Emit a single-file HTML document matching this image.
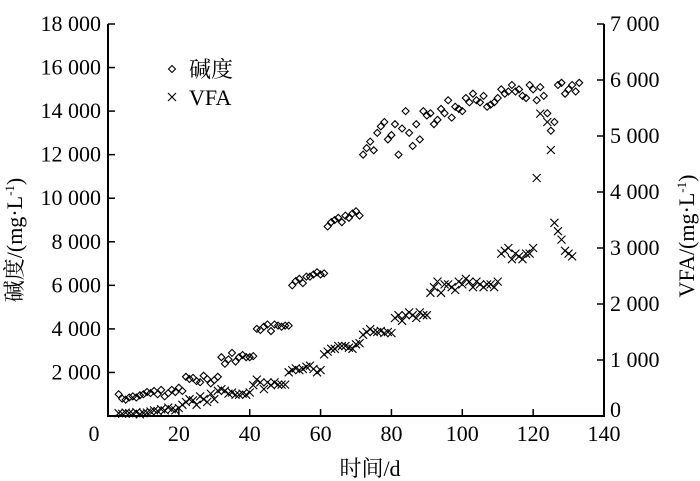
<!DOCTYPE html>
<html><head><meta charset="utf-8"><style>
body{margin:0;background:#fff;}
svg{display:block;font-family:"Liberation Serif","Noto Serif CJK SC",serif;}
</style></head><body>
<svg id="s" width="700" height="481" viewBox="0 0 700 481" xmlns="http://www.w3.org/2000/svg">
<g stroke="#000" stroke-width="2" fill="none">
<line x1="108" y1="24" x2="108" y2="417"/>
<line x1="604" y1="24" x2="604" y2="417"/>
<line x1="107" y1="416" x2="605" y2="416"/>
</g>
<g id="ticks" stroke="#000" stroke-width="1.5"></g>
<g id="labels" font-size="22" fill="#000"></g>
<text x="370" y="476" font-size="22" text-anchor="middle">时间/d</text>
<text transform="translate(22,240) rotate(-90)" font-size="22" text-anchor="middle">碱度/(mg·L<tspan dy="-8" font-size="13">-1</tspan><tspan dy="8">)</tspan></text>
<text transform="translate(694,236) rotate(-90)" font-size="22" text-anchor="middle">VFA/(mg·L<tspan dy="-8" font-size="13">-1</tspan><tspan dy="8">)</tspan></text>
<g id="pts" fill="none" stroke="#000" stroke-width="1.1"></g>
<text x="189" y="77" font-size="22">碱度</text>
<text x="189" y="105" font-size="22">VFA</text>
</svg>
<script>
var ns="http://www.w3.org/2000/svg";
function el(p,t,a,txt){var e=document.createElementNS(ns,t);for(var k in a)e.setAttribute(k,a[k]);if(txt!==undefined)e.textContent=txt;document.getElementById(p).appendChild(e);return e;}
var X=function(d){return 108+d*3.543;};
var YL=function(v){return 416-v*392/18000;};
var YR=function(v){return 416-v*392/7000;};
function fmt(n){var s=String(n);return s.length>3?s.slice(0,-3)+" "+s.slice(-3):s;}
for(var v=0;v<=18000;v+=2000){var y=YL(v);if(v>0)el("ticks","line",{x1:108,y1:y,x2:115,y2:y});if(v>0)el("labels","text",{x:101,y:y+7,"text-anchor":"end"},fmt(v));}
for(var v=0;v<=7000;v+=1000){var y=YR(v);if(v>0)el("ticks","line",{x1:597,y1:y,x2:604,y2:y});el("labels","text",{x:610,y:(v==0?y+1:y+7)},fmt(v));}
for(var d=0;d<=140;d+=20){var x=X(d);if(d>0&&d<140)el("ticks","line",{x1:x,y1:416,x2:x,y2:409});el("labels","text",{x:(d==0?x-14:x),y:441,"text-anchor":"middle"},String(d));}
var alk=[1000,800,750,850,900,850,950,1000,1100,1050,1150,1000,1200,900,1050,1200,1100,1300,1150,
1800,1700,1750,1600,1550,1850,1700,1500,1650,1800,
2700,2400,2600,2900,2500,2700,2800,2700,2700,2750,
4000,3950,4100,4200,3900,4200,4150,4100,4150,4150,
6000,6200,6300,6100,6400,6400,6500,6600,6500,6550,
8700,8900,9000,9100,8900,9200,9100,9300,9400,9200,
12000,12300,12600,12200,13000,13300,13500,12700,12900,13400,12000,13200,14000,13000,12400,13400,12700,14000,13800,13900,
13400,13600,14100,13900,14500,13700,14200,14100,14000,14600,14400,14800,14500,14400,14700,14200,14300,14400,14600,15000,
14800,14900,15200,14900,15000,14700,14600,15200,15000,14500,15100,14700,13900,13100,13500,15200,15300,14800,15000,15200,14900,15300];
var vfa=[50,40,60,50,40,70,30,50,60,80,100,90,120,100,150,120,100,140,
200,250,300,280,200,350,300,250,400,300,
450,480,450,400,420,380,380,400,380,420,
550,650,600,480,600,550,600,560,560,560,
780,820,850,820,840,880,900,840,780,820,
1100,1150,1200,1200,1250,1250,1250,1220,1200,1280,
1300,1450,1500,1550,1500,1500,1520,1480,1500,1480,
1750,1800,1700,1800,1850,1800,1750,1850,1800,1800,
2200,2300,2400,2200,2350,2350,2300,2250,2400,2350,
2450,2400,2300,2400,2350,2300,2350,2350,2300,2400,
2900,2950,3000,2800,2900,2850,2800,2900,2900,3000];
function dia(x,y){el("pts","path",{d:"M"+x+" "+(y-3.5)+"L"+(x+3.5)+" "+y+"L"+x+" "+(y+3.5)+"L"+(x-3.5)+" "+y+"Z"});}
function cr(x,y){el("pts","path",{d:"M"+(x-4)+" "+(y-4)+"L"+(x+4)+" "+(y+4)+"M"+(x+4)+" "+(y-4)+"L"+(x-4)+" "+(y+4)});}
alk.forEach(function(v,i){dia(X(3+i),YL(v));});
vfa.forEach(function(v,i){cr(X(3+i),YR(v));});
[[121,4250],[122,5400],[124,5250],[125,4750],[126,3450],[127,3300],[128,3150],[129,2950],[130,2900],[131,2850]].forEach(function(p){cr(X(p[0]),YR(p[1]));});
dia(172,69);cr(172,97);
</script>
</body></html>
